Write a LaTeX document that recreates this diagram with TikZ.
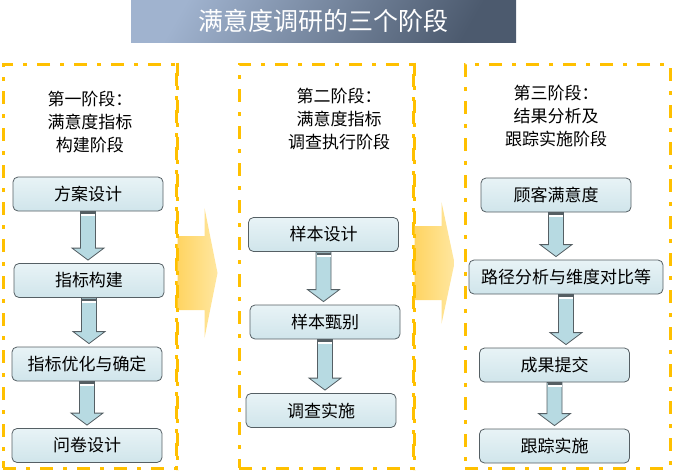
\documentclass[tikz,border=0pt]{standalone}
\usepackage{fontspec}
\setmainfont{Noto Sans CJK SC}
\usepackage{xcolor}
\usepackage{tikz}
\usetikzlibrary{calc}
\usetikzlibrary{shapes}

\definecolor{boxtop}{RGB}{232,243,246}
\definecolor{boxbottom}{RGB}{208,229,235}
\definecolor{boxline}{RGB}{85,95,100}
\definecolor{arrowfill}{RGB}{183,218,226}
\definecolor{framegold}{RGB}{255,192,0}
\definecolor{bigarrow}{RGB}{255,212,98}
\definecolor{bigarrowlight}{RGB}{255,231,160}
\definecolor{titletop}{RGB}{160,179,207}
\definecolor{titlebottom}{RGB}{76,90,110}

\newcommand{\flowarrow}[2]{%
    \filldraw[draw = boxline, fill = arrowfill, line width = 0.8pt]
        let \p1 = (#1.south), \p2 = (#2.north) in
        (\x1-7.5pt, \y1) -- (\x1-7.5pt, \y2+15pt) -- (\x1-16pt, \y2+15pt)
        -- (\x1, \y2+3pt) -- (\x1+16pt, \y2+15pt) -- (\x1+7.5pt, \y2+15pt)
        -- (\x1+7.5pt, \y1) -- cycle;
    \fill[boxline] let \p1 = (#1.south) in
        (\x1-7pt, \y1-1pt) rectangle (\x1+7pt, \y1-3pt);
    \fill[white] let \p1 = (#1.south) in
        (\x1-7pt, \y1-3pt) rectangle (\x1+7pt, \y1-5pt);
}

\newcommand{\stagearrow}[3]{%
    \shade[left color = bigarrow, right color = bigarrowlight]
        let \p1 = ($(#1.east)+(0,#2)$) in
        (\x1, \y1+37pt) -- (\x1+27pt, \y1+37pt) -- (\x1+27pt, \y1+#3pt)
        -- (\x1+40pt, \y1) -- (\x1+27pt, \y1-#3pt) -- (\x1+27pt, \y1-37pt)
        -- (\x1, \y1-37pt) -- cycle;
}

\begin{document}
\begin{tikzpicture}[x = 1pt, y = -1pt,
                    stepbox/.style = {draw = boxline, top color = boxtop, bottom color = boxbottom,
                        rounded corners = 5pt, line width = 0.8pt, minimum width = 150pt,
                        minimum height = 34pt, inner sep = 0pt,
                        font = \fontsize{17}{20}\selectfont},
                    stageframe/.style = {draw = framegold, line width = 3pt,
                        dash pattern = on 13pt off 10pt on 4pt off 10pt,
                        minimum height = 404pt, inner sep = 0pt},
                    heading/.style = {align = center, font = \fontsize{17}{23}\selectfont}]
                    \useasboundingbox (0, 0) rectangle (673, 472);

                    \node[stageframe, minimum width = 173pt] (f1) at (89.5, 266) {};
                    \node[stageframe, minimum width = 174pt] (f2) at (326, 266) {};
                    \node[stageframe, minimum width = 205pt] (f3) at (567.5, 266) {};

                    \stagearrow{f1}{7}{65}
                    \stagearrow{f2}{-3}{61}
                    \draw[framegold, line width = 3pt, dash pattern = on 13pt off 10pt on 4pt off 10pt]
                        (f1.north east) -- (f1.south east) (f2.north east) -- (f2.south east);

                    \node[shade, top color = titletop, bottom color = titlebottom, shading angle = 60,
                        minimum width = 385pt, minimum height = 42pt, inner sep = 0pt,
                        text = white, font = \fontsize{25}{25}\selectfont] (title) at (323.5, 21)
                        {满意度调研的三个阶段};

                    \node[heading] (hd1) at (90, 122) {第一阶段：\\满意度指标\\构建阶段};
                    \node[heading] (hd2) at (339, 119) {第二阶段：\\满意度指标\\调查执行阶段};
                    \node[heading] (hd3) at (556, 116) {第三阶段：\\结果分析及\\跟踪实施阶段};

                    \node[stepbox] (b11) at (88, 194) {方案设计};
                    \node[stepbox] (b12) at (89, 280.5) {指标构建};
                    \node[stepbox] (b13) at (87, 364) {指标优化与确定};
                    \node[stepbox] (b14) at (87, 445.5) {问卷设计};

                    \node[stepbox] (b21) at (323.5, 234.5) {样本设计};
                    \node[stepbox] (b22) at (325, 322) {样本甄别};
                    \node[stepbox] (b23) at (321, 410.5) {调查实施};

                    \node[stepbox] (b31) at (556, 195) {顾客满意度};
                    \node[stepbox, minimum width = 194pt] (b32) at (566, 277) {路径分析与维度对比等};
                    \node[stepbox] (b33) at (554.5, 365) {成果提交};
                    \node[stepbox] (b34) at (554.5, 446) {跟踪实施};

                    \flowarrow{b11}{b12}
                    \flowarrow{b12}{b13}
                    \flowarrow{b13}{b14}
                    \flowarrow{b21}{b22}
                    \flowarrow{b22}{b23}
                    \flowarrow{b31}{b32}
                    \flowarrow{b32}{b33}
                    \flowarrow{b33}{b34}
                \end{tikzpicture}
\end{document}
